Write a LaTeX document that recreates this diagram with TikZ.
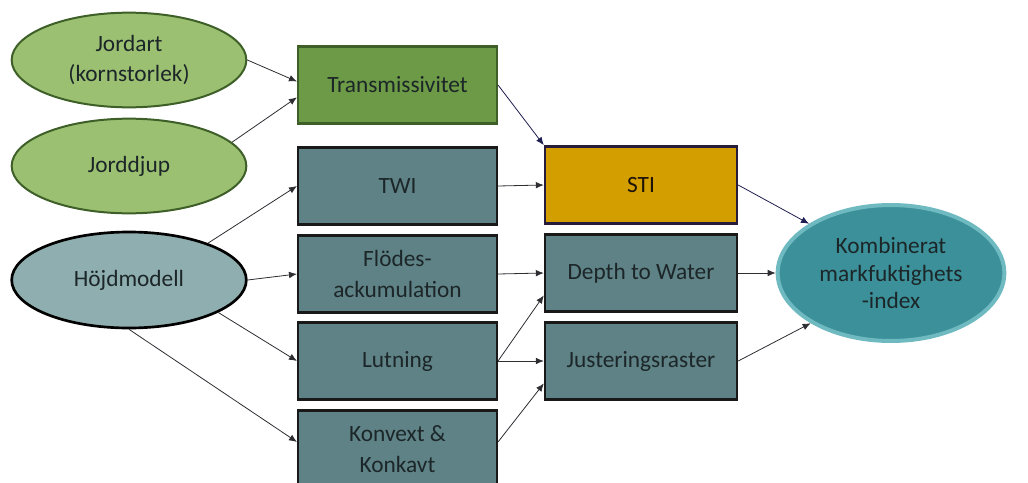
\documentclass[tikz,border=0pt]{standalone}
\usepackage{fontspec}
\setmainfont{Carlito}
\usepackage{tikz}
\usetikzlibrary{arrows.meta}
\usetikzlibrary{shapes.geometric}
\definecolor{soilfill}{RGB}{155,192,114}
\definecolor{soilline}{RGB}{62,96,40}
\definecolor{transfill}{RGB}{108,154,70}
\definecolor{demfill}{RGB}{143,174,176}
\definecolor{boxfill}{RGB}{94,130,133}
\definecolor{stifill}{RGB}{210,158,0}
\definecolor{stiline}{RGB}{40,28,60}
\definecolor{kombfill}{RGB}{59,144,153}
\definecolor{kombline}{RGB}{110,186,192}
\definecolor{textdark}{RGB}{28,38,40}
\definecolor{linegrey}{RGB}{45,45,50}
\definecolor{linenavy}{RGB}{30,30,80}

\begin{document}
\begin{tikzpicture}[x=0.75pt,y=-0.75pt]
\tikzset{txt/.style={align=center, text=textdark, inner sep=0pt, font=\fontsize{17.5}{23}\selectfont}}
\tikzset{soil/.style={txt, ellipse, draw=soilline, line width=1.5pt, fill=soilfill, minimum width=176pt, minimum height=71pt}}
\tikzset{dem/.style={txt, ellipse, draw=black, line width=2pt, fill=demfill, minimum width=176pt, minimum height=72pt}}
\tikzset{box/.style={txt, draw=black!90, line width=1.8pt, fill=boxfill, minimum width=149pt, minimum height=58pt}}
\tikzset{outbox/.style={box, minimum width=144pt}}
\tikzset{conn/.style={-{Latex[length=6pt,width=5pt]}, line width=0.6pt, draw=linegrey}}
\tikzset{navyconn/.style={conn, draw=linenavy}}

\clip (0,0) rectangle (1028,482);

\pgfmathsetmacro{\colA}{129}
\pgfmathsetmacro{\colB}{397.5}
\pgfmathsetmacro{\colC}{641}
\pgfmathsetmacro{\colD}{891}

% inputs
\node[soil] (Jordart) at (\colA, 60) {Jordart\\(kornstorlek)};
\node[soil] (Jorddjup) at (\colA, 166) {Jorddjup};
\node[dem] (Hojd) at (\colA, 280) {Höjdmodell};

% derived layers
\node[box, fill=transfill, draw=soilline] (Trans) at (\colB, 85) {Transmissivitet};
\node[box] (TWI) at (\colB, 186) {TWI};
\node[box, font=\fontsize{17.5}{23.5}\selectfont] (Flodes) at (\colB, 274) {Flödes-\\ackumulation};
\node[box] (Lutning) at (\colB, 361) {Lutning};
\node[box, font=\fontsize{17.5}{23.5}\selectfont] (Konvext) at (\colB, 449) {Konvext \&\\Konkavt};

\node[outbox, fill=stifill, draw=stiline, text=black!85!brown] (STI) at (\colC, 185) {STI};
\node[outbox] (Depth) at (\colC, 273) {Depth to Water};
\node[outbox] (Just) at (\colC, 361) {Justeringsraster};

\node[txt, ellipse, draw=kombline, line width=3pt, fill=kombfill, minimum width=170pt, minimum height=102pt,
      font=\fontsize{17.5}{20.5}\selectfont] (Komb) at (\colD, 273) {Kombinerat\\markfuktighets\\-index};

\draw[conn] (Jordart.east) -- (Trans.178);
\draw[conn] (Jorddjup.13) -- (Trans.187);
\draw[conn] (Hojd.25) -- (TWI.west);
\draw[conn] (Hojd.east) -- (Flodes.west);
\draw[conn] (Hojd.-20) -- (Lutning.west);
\draw[conn] (Hojd.south) -- (Konvext.176);

\draw[navyconn] (Trans.east) -- (STI.north west);
\draw[conn] (TWI.east) -- (STI.west);
\draw[conn] (Flodes.east) -- (Depth.west);
\draw[conn] (Lutning.east) -- (Depth.193);
\draw[conn] (Lutning.east) -- (Just.west);
\draw[conn] (Konvext.4) -- (Just.193);

\draw[navyconn] (STI.east) -- (Komb.149);
\draw[conn] (Depth.east) -- (Komb.west);
\draw[conn] (Just.east) -- (Komb.212);
\end{tikzpicture}
\end{document}
